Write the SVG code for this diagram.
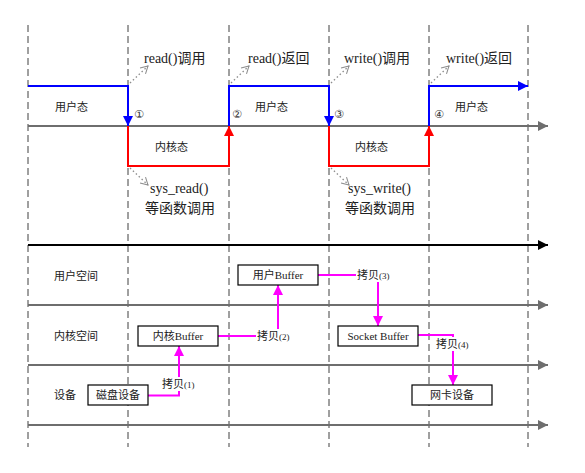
<svg xmlns="http://www.w3.org/2000/svg" width="585" height="473" viewBox="0 0 585 473">
<defs>
<style>
.dash{stroke:#404040;stroke-width:1;stroke-dasharray:7,4;fill:none}
.axis{stroke:#6e6e6e;stroke-width:2;fill:none}
.blue{stroke:#0000ff;stroke-width:2;fill:none}
.red{stroke:#ff0000;stroke-width:2;fill:none}
.dot{stroke:#8c8c8c;stroke-width:1.3;stroke-dasharray:1.5,2.5;fill:none}
.mag{stroke:#ff00ff;stroke-width:2;fill:none}
.box{fill:#fff;stroke:#000;stroke-width:1.2}
.big{font-family:"Liberation Serif","Noto Sans CJK SC",serif;font-size:14px;fill:#222}
.sm{font-family:"Liberation Serif","Noto Sans CJK SC",serif;font-size:11px;fill:#222}
.num{font-family:"DejaVu Sans","Noto Sans CJK SC",sans-serif;font-size:11px;fill:#333}
</style>
<marker id="ag" viewBox="0 0 10 10" refX="10" refY="5" markerWidth="10" markerHeight="10" markerUnits="userSpaceOnUse" orient="auto"><path d="M0,0 L10,5 L0,10 z" fill="#6e6e6e"/></marker>
<marker id="ak" viewBox="0 0 10 10" refX="10" refY="5" markerWidth="10" markerHeight="10" markerUnits="userSpaceOnUse" orient="auto"><path d="M0,0 L10,5 L0,10 z" fill="#000"/></marker>
<marker id="ab" viewBox="0 0 10 10" refX="10" refY="5" markerWidth="10" markerHeight="10" markerUnits="userSpaceOnUse" orient="auto"><path d="M0,0 L10,5 L0,10 z" fill="#0000ff"/></marker>
<marker id="ar" viewBox="0 0 10 10" refX="10" refY="5" markerWidth="10" markerHeight="10" markerUnits="userSpaceOnUse" orient="auto"><path d="M0,0 L10,5 L0,10 z" fill="#ff0000"/></marker>
<marker id="am" viewBox="0 0 10 10" refX="10" refY="5" markerWidth="10" markerHeight="10" markerUnits="userSpaceOnUse" orient="auto"><path d="M0,0 L10,5 L0,10 z" fill="#ff00ff"/></marker>
<marker id="ao" viewBox="0 0 10 10" refX="9" refY="5" markerWidth="8" markerHeight="8" markerUnits="userSpaceOnUse" orient="auto" overflow="visible"><path d="M0,0 L9,5 L0,10" fill="none" stroke="#8c8c8c" stroke-width="1.3"/></marker>
</defs>
<rect width="585" height="473" fill="#fff"/>

<g id="grid">
<line class="dash" x1="28" y1="25" x2="28" y2="447"/>
<line class="dash" x1="128" y1="25" x2="128" y2="447"/>
<line class="dash" x1="229" y1="25" x2="229" y2="447"/>
<line class="dash" x1="329" y1="25" x2="329" y2="447"/>
<line class="dash" x1="429" y1="25" x2="429" y2="447"/>
<line class="dash" x1="528" y1="25" x2="528" y2="447"/>
</g>

<g id="connectors">
<line class="axis" x1="28" y1="126" x2="548" y2="126" marker-end="url(#ag)"/>
<line x1="28" y1="245" x2="548" y2="245" stroke="#000" stroke-width="2" marker-end="url(#ak)"/>
<line class="axis" x1="28" y1="305" x2="548" y2="305" marker-end="url(#ag)"/>
<line class="axis" x1="28" y1="365" x2="548" y2="365" marker-end="url(#ag)"/>
<line class="axis" x1="28" y1="425" x2="548" y2="425" marker-end="url(#ag)"/>

<path class="blue" d="M28,86 H128 V126" marker-end="url(#ab)"/>
<path class="red" d="M128,126 V166 H229 V126" marker-end="url(#ar)"/>
<path class="blue" d="M229,126 V86 H329 V126" marker-end="url(#ab)"/>
<path class="red" d="M329,126 V166 H429 V126" marker-end="url(#ar)"/>
<path class="blue" d="M429,126 V86 H528" marker-end="url(#ab)"/>

<line class="dot" x1="130" y1="83" x2="148" y2="66" marker-end="url(#ao)"/>
<line class="dot" x1="231" y1="83" x2="249" y2="66" marker-end="url(#ao)"/>
<line class="dot" x1="331" y1="83" x2="349" y2="66" marker-end="url(#ao)"/>
<line class="dot" x1="431" y1="83" x2="449" y2="66" marker-end="url(#ao)"/>
<line class="dot" x1="130" y1="168" x2="148" y2="185" marker-end="url(#ao)"/>
<line class="dot" x1="331" y1="168" x2="349" y2="185" marker-end="url(#ao)"/>

<path class="mag" d="M148,395.5 H179 V346" marker-end="url(#am)"/>
<path class="mag" d="M218,336 H278 V285" marker-end="url(#am)"/>
<path class="mag" d="M318,275 H378 V326" marker-end="url(#am)"/>
<path class="mag" d="M418,335 H453 V385" marker-end="url(#am)"/>
</g>

<g id="labels">
<text class="big" x="144" y="63">read()调用</text>
<text class="big" x="248" y="63">read()返回</text>
<text class="big" x="344" y="63">write()调用</text>
<text class="big" x="446" y="63">write()返回</text>
<text class="sm" x="55" y="111">用户态</text>
<text class="sm" x="255" y="111">用户态</text>
<text class="sm" x="455" y="111">用户态</text>
<text class="sm" x="155" y="151">内核态</text>
<text class="sm" x="355" y="151">内核态</text>
<text class="num" x="134" y="118">①</text>
<text class="num" x="232" y="118">②</text>
<text class="num" x="334" y="118">③</text>
<text class="num" x="434" y="118">④</text>
<text class="big" x="150" y="193">sys_read()</text>
<text class="big" x="145" y="213">等函数调用</text>
<text class="big" x="348" y="193">sys_write()</text>
<text class="big" x="345" y="213">等函数调用</text>
<text class="sm" x="54" y="280">用户空间</text>
<text class="sm" x="54" y="340">内核空间</text>
<text class="sm" x="54" y="399">设备</text>
</g>

<g id="copy1"><rect x="161" y="377" width="35" height="14" fill="#fff"/><text class="sm" x="162" y="388">拷贝<tspan font-size="9">(1)</tspan></text></g>
<g id="copy2"><rect x="256" y="329" width="35" height="14" fill="#fff"/><text class="sm" x="257" y="340">拷贝<tspan font-size="9">(2)</tspan></text></g>
<g id="copy3"><rect x="356" y="268" width="35" height="14" fill="#fff"/><text class="sm" x="357" y="279">拷贝<tspan font-size="9">(3)</tspan></text></g>
<g id="copy4"><rect x="435" y="337" width="35" height="14" fill="#fff"/><text class="sm" x="436" y="348">拷贝<tspan font-size="9">(4)</tspan></text></g>

<g id="userbuf"><rect class="box" x="238" y="265" width="80" height="20"/><text class="sm" x="278" y="279" text-anchor="middle">用户Buffer</text></g>
<g id="kernbuf"><rect class="box" x="138" y="326" width="80" height="20"/><text class="sm" x="178" y="340" text-anchor="middle">内核Buffer</text></g>
<g id="disk"><rect class="box" x="88" y="385" width="60" height="20"/><text class="sm" x="118" y="399" text-anchor="middle">磁盘设备</text></g>
<g id="sockbuf"><rect class="box" x="338" y="326" width="80" height="20"/><text class="sm" x="378" y="340" text-anchor="middle">Socket Buffer</text></g>
<g id="nic"><rect class="box" x="412" y="385" width="80" height="20"/><text class="sm" x="452" y="399" text-anchor="middle">网卡设备</text></g>
</svg>
